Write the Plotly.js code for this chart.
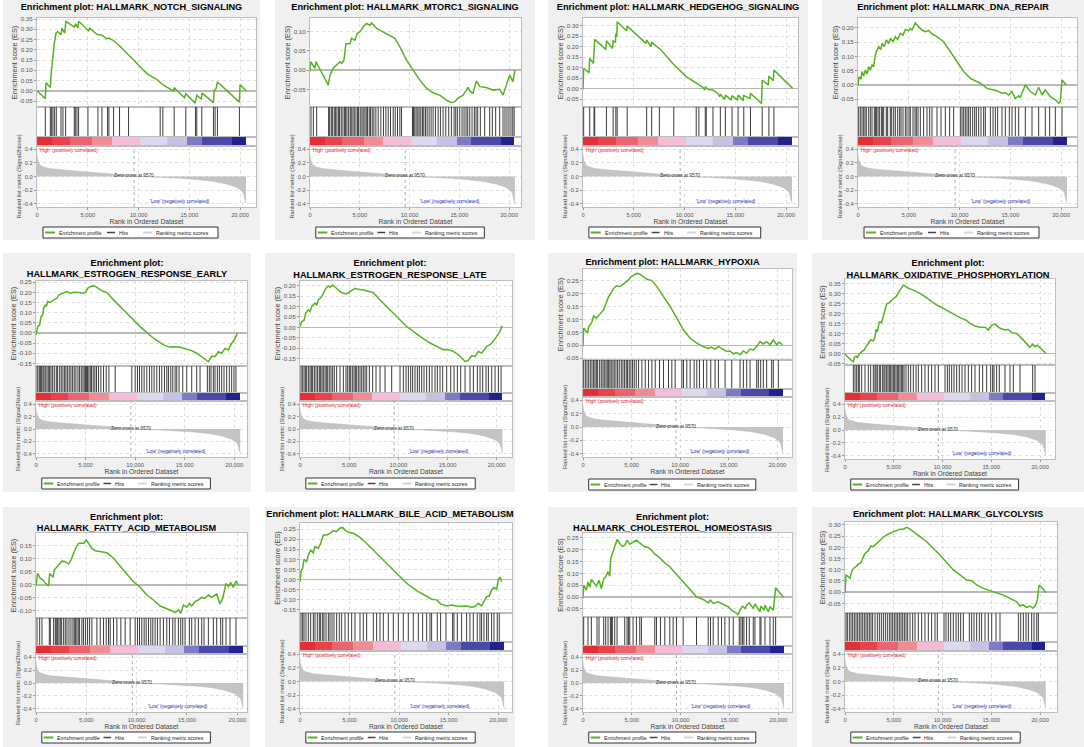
<!DOCTYPE html>
<html><head><meta charset="utf-8">
<script src="https://cdn.plot.ly/plotly-3.0.1.min.js"></script>
<style>
html,body{margin:0;padding:0;background:#ffffff;}
body{width:1084px;height:747px;position:relative;overflow:hidden;}
.panel{position:absolute;}
</style></head>
<body>
<div id="p1" class="panel"></div><div id="p2" class="panel"></div><div id="p3" class="panel"></div><div id="p4" class="panel"></div>
<div id="p5" class="panel"></div><div id="p6" class="panel"></div><div id="p7" class="panel"></div><div id="p8" class="panel"></div>
<div id="p9" class="panel"></div><div id="p10" class="panel"></div><div id="p11" class="panel"></div><div id="p12" class="panel"></div>
<script>
// ---------------- DATA ----------------
const rankTickVals = [0, 5000, 10000, 15000, 20000];
const rankTickText = ['0', '5,000', '10,000', '15,000', '20,000'];
const metricTickVals = [-0.4, -0.2, 0, 0.2, 0.4];
const metricTickText = ['-0.4', '-0.2', '0.0', '0.2', '0.4'];
const zeroCross = 9570;

// ranked list metric (Signal2Noise), shared by all panels
const metricRank  = [0, 20, 130, 300, 620, 1280, 2600, 4240, 5880, 7520, 9160, 9570, 11000, 12450, 14090, 15730, 17370, 18690, 19670, 20080, 20330, 20490, 20590];
const metricValue = [0.34, 0.28, 0.22, 0.167, 0.142, 0.116, 0.096, 0.076, 0.056, 0.035, 0.015, 0.0, -0.008, -0.015, -0.025, -0.046, -0.071, -0.11, -0.16, -0.2, -0.24, -0.34, -0.39];

// colour strip under the hits (rank bins and level per bin)
const barEdges  = [0, 1500, 3250, 5390, 7360, 10150, 12770, 14750, 16220, 19180, 20550];
const barLevels = [0, 1, 2, 3, 4, 5, 6, 7, 8, 9];

const titles = [
  'Enrichment plot: HALLMARK_NOTCH_SIGNALING',
  'Enrichment plot: HALLMARK_MTORC1_SIGNALING',
  'Enrichment plot: HALLMARK_HEDGEHOG_SIGNALING',
  'Enrichment plot: HALLMARK_DNA_REPAIR',
  'Enrichment plot:<br>HALLMARK_ESTROGEN_RESPONSE_EARLY',
  'Enrichment plot:<br>HALLMARK_ESTROGEN_RESPONSE_LATE',
  'Enrichment plot: HALLMARK_HYPOXIA',
  'Enrichment plot:<br>HALLMARK_OXIDATIVE_PHOSPHORYLATION',
  'Enrichment plot:<br>HALLMARK_FATTY_ACID_METABOLISM',
  'Enrichment plot: HALLMARK_BILE_ACID_METABOLISM',
  'Enrichment plot:<br>HALLMARK_CHOLESTEROL_HOMEOSTASIS',
  'Enrichment plot: HALLMARK_GLYCOLYSIS'
];

// 1 NOTCH
const notchEsRank  = [0,820,886,1312,1378,1476,1574,1706,1870,2034,2362,2460,2722,2854,3674,3805,4002,4100,5084,5182,5904,6396,6888,7052,7544,8200,9512,10824,11808,12464,13448,13514,14530,14662,15580,15744,16170,16268,17384,17450,17646,17778,19942,20008,20598];
const notchEsScore = [0,-0.039,0.039,0.016,0.076,0.125,0.183,0.232,0.281,0.289,0.273,0.306,0.281,0.339,0.311,0.327,0.306,0.339,0.293,0.306,0.276,0.271,0.253,0.257,0.245,0.216,0.15,0.084,0.055,0.027,-0.001,0.016,-0.034,-0.014,-0.06,-0.022,-0.039,-0.011,-0.058,0.002,0.011,0.043,-0.055,0.03,0.0];
const notchHits = [820,1312,1443,1574,1738,1902,2362,2558,2821,3674,3772,3936,4100,5018,6002,6396,6954,7085,7544,8134,9020,12136,12398,13514,14662,15613,15744,16236,17384,17548,17778,19942];

// 2 MTORC1
const mtorcEsRank  = [0,67,502,602,1839,2006,2341,2675,3010,3177,3411,3612,4013,4180,4515,4749,5016,5351,5686,6019,6186,6688,7357,8026,8527,9029,9698,10366,11035,11704,12373,13042,13711,14213,14547,14882,15383,15718,15885,16052,16387,16721,17056,17725,18394,19063,19398,19733,20067,20401,20600];
const mtorcEsScore = [-0.004,0.022,0.005,0.022,-0.039,-0.013,0.005,0.013,0.022,0.018,0.026,0.069,0.069,0.083,0.078,0.096,0.1,0.113,0.122,0.117,0.123,0.109,0.1,0.091,0.083,0.061,0.026,0.0,-0.026,-0.047,-0.059,-0.065,-0.078,-0.085,-0.082,-0.073,-0.065,-0.052,-0.045,-0.054,-0.06,-0.028,-0.043,-0.045,-0.052,-0.05,-0.065,-0.039,-0.013,-0.03,0.0];
const mtorcHits = [100,334,669,1873,1973,2140,2274,2441,2575,2709,2876,2976,3143,3311,3478,3578,3712,3879,4046,4147,4314,4448,4615,4782,4882,5049,5217,5350,5518,5651,5785,5952,6086,6253,6420,6621,6855,7123,7390,7624,7858,8092,8360,8561,8795,9029,9196,10300,10400,10534,10667,10835,10968,11136,11303,11436,11604,11771,11972,12172,12373,12607,12874,13108,13376,13644,13944,14212,14480,14647,14814,15048,15282,15483,15683,15851,16051,16285,16519,16687,16854,17121,17556,18058,18325,18660,19061,19395,19596,19796,19997,20198,20380,20520];

// 3 HEDGEHOG
const hedgehogEsRank  = [0,66,594,660,1023,1090,1155,2244,2310,2904,2970,3200,3234,3333,3366,4290,4356,6204,6270,6699,6765,7689,8844,10164,11154,11814,11979,12045,12309,12804,13299,13464,13530,13959,14025,14619,14685,15213,15279,15774,15840,16434,16500,17589,17655,18249,18315,18744,18810,20658];
const hedgehogEsScore = [-0.004,0.096,0.076,0.144,0.12,0.187,0.235,0.187,0.228,0.192,0.228,0.222,0.263,0.247,0.319,0.276,0.298,0.216,0.232,0.2,0.22,0.184,0.12,0.057,0.025,0.006,-0.007,0.009,-0.004,-0.007,-0.023,-0.039,-0.027,-0.052,-0.031,-0.055,-0.034,-0.055,-0.031,-0.058,-0.034,-0.047,-0.023,-0.071,0.04,0.017,0.06,0.037,0.088,0.001];
const hedgehogHits = [66,660,1090,1155,2310,2970,3234,3366,4356,6270,6765,7524,8943,11154,11418,12045,12144,12804,13530,14025,14685,15279,15840,16500,17655,18315,18810];

// 4 DNA_REPAIR
const dnaEsRank  = [0,99,296,394,558,723,887,1051,1215,1379,1543,1708,1872,2036,2266,2364,2594,2791,3021,3185,3448,3678,3908,4170,4433,4663,4992,5156,5320,5648,5977,6305,6634,6962,7290,7783,8440,9097,9753,10410,11067,11461,12052,12709,13202,13694,14187,14515,14844,15172,15500,15829,15993,16486,16979,17471,17800,18128,18457,18950,19442,19771,19935,20099,20525];
const dnaEsScore = [-0.003,0.029,0.02,0.047,0.031,0.052,0.038,0.064,0.052,0.07,0.064,0.105,0.122,0.134,0.124,0.145,0.134,0.157,0.145,0.163,0.151,0.169,0.159,0.18,0.174,0.194,0.19,0.198,0.192,0.217,0.203,0.192,0.186,0.19,0.178,0.169,0.151,0.116,0.081,0.047,0.023,0.015,0.006,-0.012,-0.017,-0.02,-0.029,-0.027,-0.035,-0.023,-0.047,-0.038,-0.043,0.0,-0.023,-0.035,-0.008,-0.035,-0.017,-0.041,-0.052,-0.064,-0.058,0.017,0.0];
const dnaHits = [66,230,394,558,690,821,1051,1215,1379,1609,1741,1806,1970,2102,2299,2397,2529,2791,2923,3185,3317,3514,3678,3908,4105,4236,4433,4663,4827,5025,5156,5419,5616,5747,5911,6141,6470,6798,7060,7290,7783,8177,8604,9031,9425,10082,10246,10410,10575,10739,10903,11067,11297,11494,11658,11888,12118,12381,12545,13038,13300,13530,13760,14187,14515,14909,15172,15500,15829,16486,17143,17800,18457,18884,19442,20099];

// 5 ESTROGEN_RESPONSE_EARLY
const earlyEsRank  = [0,168,369,503,671,772,940,1040,1175,1443,1779,2114,2282,2785,3121,3457,3792,4296,4799,5068,5202,5470,5806,6141,6477,7148,7820,9162,10505,11847,12854,13525,13861,14532,15203,15706,16210,16713,17384,17720,18055,18391,18727,19062,19398,19734,20000,20304];
const earlyEsScore = [-0.01,0.031,0.04,0.08,0.088,0.122,0.138,0.13,0.155,0.15,0.163,0.171,0.187,0.199,0.204,0.196,0.201,0.199,0.196,0.204,0.22,0.228,0.233,0.225,0.212,0.199,0.163,0.097,0.031,-0.026,-0.059,-0.071,-0.068,-0.071,-0.081,-0.087,-0.1,-0.117,-0.142,-0.114,-0.117,-0.093,-0.1,-0.076,-0.084,-0.051,-0.035,-0.002];
const earlyHits = [101,201,369,470,571,705,805,940,1107,1242,1376,1510,1678,1846,2047,2181,2383,2551,2718,2886,3020,3188,3356,3524,3692,3859,4027,4229,4396,4564,4732,4866,5000,5101,5202,5336,5470,5605,5772,5940,6108,6309,6544,6813,7081,7350,7987,9665,10001,10236,10437,10672,10907,11175,11444,11679,11914,12182,12451,12686,12954,13189,13357,13592,13793,14028,14196,14431,14800,15203,15706,16209,16545,17283,17485,17653,17887,18055,18290,18492,18727,18961,19230,19498,19733,19968,20169];

// 6 ESTROGEN_RESPONSE_LATE
const lateEsRank  = [0,170,407,576,848,1017,1187,1526,1695,1865,2204,2373,2644,2882,3051,3322,3560,3899,4238,4746,5085,5594,5933,6441,7119,7458,8136,8814,9831,10848,12204,13221,13899,14577,15085,15594,16102,16441,16780,17119,17458,17797,18136,18475,18984,19323,19662,20000,20339,20543];
const lateEsScore = [0.004,0.028,0.033,0.068,0.084,0.076,0.1,0.116,0.108,0.132,0.147,0.163,0.187,0.198,0.192,0.203,0.192,0.179,0.166,0.16,0.171,0.187,0.182,0.179,0.171,0.166,0.131,0.1,0.052,0.004,-0.043,-0.075,-0.091,-0.107,-0.107,-0.115,-0.131,-0.147,-0.163,-0.158,-0.136,-0.139,-0.115,-0.123,-0.091,-0.083,-0.067,-0.043,-0.019,0.008];
const lateHits = [102,237,407,542,678,848,1017,1153,1288,1458,1627,1797,1966,2102,2237,2373,2543,2678,2814,2983,3153,3322,3492,3729,4068,4407,4678,4848,5017,5153,5322,5492,5627,5763,5933,6102,6272,6441,6611,6780,7051,7390,7729,8136,8645,9323,10170,10509,10780,11018,11255,11458,11696,11933,12136,12374,12611,12882,13153,13424,13730,13967,14238,14509,14916,15323,15662,16001,16340,16781,17289,17628,18035,18306,18577,18916,19154,19493,19832,20171,20442];

// 7 HYPOXIA
const hypoxiaEsRank  = [0,68,343,480,582,753,925,1096,1370,1610,1952,2124,2398,2637,2877,3151,3425,3768,4007,4350,4692,4932,5206,5549,5823,6165,6576,7090,7604,8289,8974,9659,10344,11029,11713,12398,12912,13152,13597,13939,14453,14795,15138,15480,15823,16165,16508,16850,17193,17535,17878,18220,18563,18905,19248,19590,19933,20207,20549];
const hypoxiaEsScore = [-0.005,0.066,0.053,0.047,0.072,0.079,0.091,0.114,0.105,0.117,0.13,0.137,0.162,0.188,0.201,0.22,0.229,0.227,0.233,0.242,0.253,0.265,0.272,0.278,0.276,0.268,0.255,0.25,0.227,0.188,0.15,0.105,0.059,0.027,0.008,-0.005,-0.013,-0.007,-0.015,-0.005,-0.018,-0.024,-0.022,-0.033,-0.028,-0.037,-0.022,-0.031,-0.015,-0.018,-0.005,0.014,0.005,0.014,0.002,0.021,0.002,0.012,0.002];
const hypoxiaHits = [68,240,411,582,754,925,1096,1233,1370,1507,1713,1884,2055,2192,2363,2500,2637,2774,2911,3083,3220,3391,3562,3733,3939,4110,4281,4453,4590,4761,4932,5103,5275,5480,5720,6062,6405,6747,7090,7432,7878,8289,8802,9145,9487,10172,10344,10686,11029,11440,11714,11988,12399,12741,13152,13597,13940,14625,15310,16166,16509,16851,17194,17879,18050,18290,18564,18906,19420,19591,20105];

// 8 OXIDATIVE_PHOSPHORYLATION
const oxphosEsRank  = [0,171,684,855,957,1128,1265,1470,1710,1949,2154,2393,2633,2906,3077,3180,3316,3522,3761,3864,4103,4274,4547,4787,5026,5231,5470,5641,5812,5983,6154,6496,6838,7180,7693,8206,8718,9402,10086,10770,11454,11967,12411,12821,13334,13847,14360,14702,15044,15386,15899,16412,16754,17096,17608,18121,18634,18976,19250,19489,19728,20617];
const oxphosEsScore = [0,-0.013,-0.036,-0.041,-0.02,-0.013,-0.021,-0.003,0.009,0.017,0.034,0.054,0.068,0.064,0.081,0.121,0.11,0.16,0.155,0.177,0.222,0.249,0.256,0.269,0.278,0.286,0.303,0.32,0.333,0.345,0.34,0.328,0.323,0.316,0.303,0.286,0.266,0.244,0.227,0.206,0.189,0.177,0.168,0.152,0.138,0.132,0.132,0.118,0.143,0.148,0.127,0.118,0.121,0.105,0.101,0.076,0.051,0.031,0.047,0.034,0.042,0.0];
const oxphosHits = [855,1026,1197,1368,1470,1710,2051,2393,2633,2906,3077,3180,3316,3522,3658,3863,4000,4103,4274,4411,4547,4684,4821,4958,5094,5231,5368,5505,5641,5778,5915,6052,6257,6496,6735,7009,7282,7521,7863,8205,8547,8889,9231,9573,10257,10496,10701,10940,11180,11453,11727,12000,12308,12650,12992,13334,13778,14120,14531,14941,15146,15283,15556,15830,16411,16924,17266,17950,19249,19489];

// 9 FATTY_ACID_METABOLISM
const fattyEsRank  = [0,165,430,694,926,1256,1355,1686,1818,2083,2347,2579,2909,3240,3471,3736,4000,4232,4562,4728,4992,5223,5554,5884,6380,7041,7703,8364,9025,9686,10348,11009,11670,12331,12992,13488,13818,14149,14380,14645,14976,15240,15472,15803,16133,16464,16794,17125,17456,17952,18282,18547,18877,19109,19340,19604,19869,20100];
const fattyEsScore = [-0.004,0.044,0.025,0.019,0.006,-0.004,0.044,0.029,0.057,0.07,0.082,0.091,0.089,0.08,0.095,0.121,0.146,0.159,0.161,0.159,0.172,0.159,0.14,0.131,0.127,0.123,0.102,0.07,0.042,0.012,-0.009,-0.039,-0.058,-0.081,-0.09,-0.099,-0.106,-0.096,-0.109,-0.077,-0.086,-0.071,-0.081,-0.064,-0.058,-0.048,-0.052,-0.039,-0.048,-0.035,-0.073,-0.052,0.006,-0.007,0.008,-0.01,0.015,-0.001];
const fattyHits = [99,364,595,1322,1422,1752,1917,2017,2149,2281,2413,2546,2744,2909,3075,3273,3471,3670,3802,3934,4066,4199,4331,4562,4728,4926,5124,5323,5554,6050,6381,6711,6976,7207,7372,7703,8034,8430,8860,9356,9852,10083,10282,10513,10745,10943,11174,11406,11604,11835,12067,12331,12662,12993,13257,13588,13819,14150,14381,14579,14811,15240,15472,15803,16133,16464,16695,17125,17621,17952,18348,18546,18877,19274,19869];

// 10 BILE_ACID_METABOLISM
const bileEsRank  = [0,101,269,403,672,840,1075,1344,1512,1849,2084,2353,2689,3025,3361,3697,3966,4302,4537,4873,5378,6050,6722,7730,8739,9747,10755,11764,12604,13276,13780,14184,14789,15293,15797,16301,16805,17309,17645,17981,18317,18553,18822,19090,19326,19561,19830,19998,20166,20335];
const bileEsScore = [-0.01,0.04,0.056,0.1,0.089,0.122,0.146,0.133,0.163,0.155,0.179,0.221,0.221,0.229,0.242,0.237,0.253,0.258,0.245,0.234,0.229,0.209,0.179,0.13,0.081,0.031,-0.018,-0.054,-0.076,-0.097,-0.1,-0.12,-0.13,-0.125,-0.13,-0.133,-0.13,-0.137,-0.133,-0.117,-0.13,-0.109,-0.084,-0.081,-0.051,-0.038,-0.048,-0.002,0.012,-0.01];
const bileHits = [101,269,403,605,840,1076,1344,1512,1748,1949,2084,2285,2420,2622,2857,3025,3227,3428,3697,3966,4201,4537,4873,5210,5546,6050,6386,6722,7394,7730,8066,8403,8907,9411,9915,10419,10923,11427,11932,12368,12772,13108,13276,13847,14183,14721,15393,15528,15864,16301,16805,17141,17477,17881,18150,18318,18553,18822,18990,19326,19561,19897,20099];

// 11 CHOLESTEROL_HOMEOSTASIS
const cholEsRank  = [0,68,342,513,684,855,1368,1641,1880,2120,2325,2564,2735,2838,3077,3248,3487,3761,4034,4274,4513,4787,5128,5470,5812,5983,6325,6667,7009,7351,7693,8035,8376,8889,9573,10257,10941,11624,12308,12821,13060,13334,13847,14360,14872,15214,15556,15898,16069,16343,16582,16753,17026,17266,17437,17608,18121,18223,18531,18634,18976,19147,19489,19728,20515];
const cholEsScore = [-0.006,0.05,0.029,0.064,0.041,0.074,0.046,0.071,0.036,0.078,0.085,0.107,0.088,0.163,0.191,0.212,0.243,0.226,0.214,0.219,0.24,0.223,0.233,0.24,0.228,0.223,0.212,0.209,0.198,0.181,0.172,0.158,0.144,0.128,0.097,0.064,0.032,0.001,-0.01,-0.024,-0.013,-0.027,-0.02,-0.029,-0.041,-0.055,-0.066,-0.073,-0.055,-0.038,-0.048,-0.034,-0.024,-0.038,-0.048,-0.029,-0.062,-0.038,-0.055,-0.034,-0.062,-0.041,-0.055,0.039,-0.001];
const cholHits = [68,513,855,1436,1641,2120,2325,2564,2804,2906,3009,3248,3487,4274,4513,4650,4787,5128,5470,5812,5983,7351,7522,7932,8377,8889,9231,9573,10257,11625,12821,13060,13334,13847,14189,14531,14975,15386,16001,16172,16343,16480,16753,17027,17437,17608,18121,18224,18634,19147,19489,19728];

// 12 GLYCOLYSIS
const glycoEsRank  = [0,103,513,684,855,1128,1368,1607,1812,2051,2393,2633,2906,3248,3590,3932,4274,4616,4958,5300,5641,5983,6325,6667,7180,7693,8376,9060,9744,10428,11112,11795,12479,12992,13505,14189,14872,15556,16240,16924,17608,17950,18292,18634,18976,19249,19489,19728,19899,20172,20617];
const glycoEsScore = [-0.005,0.077,0.062,0.091,0.106,0.114,0.126,0.129,0.151,0.173,0.185,0.206,0.203,0.218,0.233,0.245,0.255,0.263,0.27,0.274,0.281,0.281,0.289,0.281,0.266,0.248,0.225,0.196,0.166,0.132,0.099,0.077,0.054,0.051,0.032,0.017,0.006,-0.002,-0.013,-0.028,-0.043,-0.062,-0.057,-0.068,-0.062,-0.072,-0.062,-0.035,0.032,0.021,-0.002];
const glycoHits = [103,239,444,615,786,957,1128,1299,1470,1641,1812,1983,2154,2325,2496,2667,2838,3077,3316,3522,3727,3932,4137,4342,4547,4718,4889,5060,5231,5402,5573,5744,5915,6086,6257,6428,6667,6941,7180,7522,7864,8206,8547,8889,9231,9471,10154,10360,10599,10838,11112,11385,11624,11864,12137,12753,12992,13232,13505,13779,14009,14360,14702,15044,15488,15898,17779,18018,18292,18565,18805,19147,19386,19660,19831];

// ---------------- STYLE / LAYOUT ----------------
const FONT = '"Liberation Sans", Arial, Helvetica, sans-serif';
const GREEN = '#52b520';
const FRAME = '#bdbdbd';
const GRID = '#dddddd';
const barColors = ['#e52d35','#e8424b','#ea6470','#f08c94','#f5bcd8','#dcd8f0','#c6c2e6','#7d7bc8','#4a48a8','#22228e'];

// absolute pixel geometry of each panel (div box, axis x positions, vertical bands)
const GEO = [
  {l:3,  t:0,   w:257, h:240, x0:37,  x20:240,   xR:256,  ty:[7],        es:[18,107],  hb:137, cb:146, rb:207, lg:227, er:[-0.079,0.355]},
  {l:275,t:0,   w:260, h:240, x0:310, x20:509,   xR:521,  ty:[7],        es:[18,107],  hb:137, cb:146, rb:207, lg:227, er:[-0.096,0.136]},
  {l:548,t:0,   w:260, h:240, x0:583, x20:786,   xR:798,  ty:[7],        es:[18,107],  hb:137, cb:146, rb:207, lg:227, er:[-0.088,0.337]},
  {l:822,t:0,   w:262, h:240, x0:858, x20:1061,  xR:1077, ty:[7],        es:[18,107],  hb:137, cb:146, rb:207, lg:227, er:[-0.077,0.234]},
  {l:3,  t:253, w:248, h:239, x0:36,  x20:234.3, xR:247,  ty:[259.5,271.5], es:[281,366], hb:393, cb:401, rb:457, lg:478, er:[-0.163,0.256]},
  {l:265,t:253, w:250, h:239, x0:300, x20:496.7, xR:512,  ty:[260,272],  es:[281,366], hb:393, cb:401, rb:457, lg:478, er:[-0.185,0.222]},
  {l:548,t:253, w:249, h:239, x0:583, x20:777.3, xR:792,  ty:[262],      es:[269,360], hb:389, cb:397, rb:457, lg:479, er:[-0.057,0.295]},
  {l:812,t:253, w:272, h:239, x0:845, x20:1040,  xR:1055, ty:[260,272],  es:[279,365], hb:393, cb:401, rb:459, lg:479, er:[-0.058,0.375]},
  {l:3,  t:507, w:247, h:240, x0:36,  x20:237.3, xR:247,  ty:[513,526],  es:[533,618], hb:646, cb:654, rb:712, lg:732, er:[-0.127,0.199]},
  {l:265,t:507, w:250, h:240, x0:300, x20:498.3, xR:512,  ty:[514],      es:[523,613], hb:642, cb:651, rb:712, lg:732, er:[-0.165,0.280]},
  {l:548,t:507, w:249, h:240, x0:583, x20:778.3, xR:792,  ty:[513,526],  es:[533,617], hb:646, cb:654, rb:712, lg:732, er:[-0.084,0.270]},
  {l:812,t:507, w:272, h:240, x0:845, x20:1040,  xR:1057, ty:[514],      es:[522,613], hb:642, cb:651, rb:712, lg:732, er:[-0.093,0.313]}
];

const SETS = [
  [notchEsRank, notchEsScore, notchHits],
  [mtorcEsRank, mtorcEsScore, mtorcHits],
  [hedgehogEsRank, hedgehogEsScore, hedgehogHits],
  [dnaEsRank, dnaEsScore, dnaHits],
  [earlyEsRank, earlyEsScore, earlyHits],
  [lateEsRank, lateEsScore, lateHits],
  [hypoxiaEsRank, hypoxiaEsScore, hypoxiaHits],
  [oxphosEsRank, oxphosEsScore, oxphosHits],
  [fattyEsRank, fattyEsScore, fattyHits],
  [bileEsRank, bileEsScore, bileHits],
  [cholEsRank, cholEsScore, cholHits],
  [glycoEsRank, glycoEsScore, glycoHits]
];

function esTicks(r) {
  const vals = [];
  for (let k = Math.ceil(r[0] / 0.05 - 1e-9); k * 0.05 <= r[1] + 1e-9; k++) vals.push(+(k * 0.05).toFixed(2));
  return {vals: vals, text: vals.map(v => (v < 0 ? '-' : '') + Math.abs(v).toFixed(2))};
}

function buildPanel(i) {
  const g = GEO[i];
  const [esRank, esScore, hits] = SETS[i];
  const div = document.getElementById('p' + (i + 1));
  div.style.left = g.l + 'px'; div.style.top = g.t + 'px';
  div.style.width = g.w + 'px'; div.style.height = g.h + 'px';

  const xmax = 20000 * (g.xR - g.x0) / (g.x20 - g.x0);
  const fy = py => 1 - (py - g.t) / g.h;                 // pixel row -> paper y
  const fx = px => (px - g.x0) / (g.xR - g.x0);          // pixel col -> paper x
  const dom = (a, b) => [fy(b), fy(a)];
  const s = (g.xR - g.x0) / 219;

  const cs = [];
  barColors.forEach((c, k) => { cs.push([k / barColors.length, c]); cs.push([(k + 1) / barColors.length, c]); });

  const traces = [
    {type: 'scatter', mode: 'lines', name: 'Enrichment profile', x: esRank, y: esScore, xaxis: 'x', yaxis: 'y',
     line: {color: GREEN, width: 1.5}, hoverinfo: 'skip'},
    {type: 'scatter', mode: 'lines', name: 'Hits', x: hits.flatMap(h => [h, h, null]), y: hits.flatMap(() => [0, 1, null]),
     xaxis: 'x2', yaxis: 'y2', line: {color: '#262626', width: 0.9}, hoverinfo: 'skip'},
    {type: 'heatmap', x: barEdges, y: [0, 1], z: [barLevels], xaxis: 'x3', yaxis: 'y3', colorscale: cs,
     zmin: -0.5, zmax: barColors.length - 0.5, showscale: false, hoverinfo: 'skip'},
    {type: 'scatter', mode: 'lines', name: 'Ranking metric scores', x: metricRank, y: metricValue, xaxis: 'x4', yaxis: 'y4',
     fill: 'tozeroy', fillcolor: '#c4c4c4', line: {color: '#b4b4b4', width: 0.5}, hoverinfo: 'skip'}
  ];

  const baseX = {range: [0, xmax], showline: true, mirror: true, linecolor: FRAME, linewidth: 1, zeroline: false,
                 ticks: '', showticklabels: false, showgrid: false, fixedrange: true, automargin: false};
  const et = esTicks(g.er);

  const lgMid = fy(g.lg + 5.5);
  const bx = px => fx(g.x0 + px * s);

  const layout = {
    width: g.w, height: g.h,
    margin: {l: g.x0 - g.l, r: g.l + g.w - g.xR, t: 0, b: 0, pad: 0, autoexpand: false},
    paper_bgcolor: '#f0f0f0', plot_bgcolor: '#ffffff', showlegend: false,
    font: {family: FONT, color: '#444', size: 7},
    title: {text: titles[i], font: {family: FONT, size: 9.2, color: '#000', weight: 'bold'},
            xref: 'container', x: 0.5, xanchor: 'center', yref: 'container',
            y: 1 - ((g.ty[0] + g.ty[g.ty.length - 1]) / 2 - g.t) / g.h, yanchor: 'middle', pad: {t: 0, b: 0, l: 0, r: 0}},
    xaxis: Object.assign({}, baseX, {anchor: 'y', showgrid: true, gridcolor: GRID, griddash: 'dot', tickvals: rankTickVals}),
    yaxis: {domain: dom(g.es[0], g.es[1]), range: g.er, anchor: 'x', showline: true, mirror: true, linecolor: FRAME,
            tickvals: et.vals, ticktext: et.text, ticks: 'outside', ticklen: 2, tickcolor: '#999',
            tickfont: {size: 6.2, color: '#555'}, showgrid: true, gridcolor: GRID, griddash: 'dot',
            zeroline: true, zerolinecolor: '#b8b8b8', zerolinewidth: 1.5, fixedrange: true, automargin: false,
            title: {text: 'Enrichment score (ES)', font: {size: 7.3, color: '#444'}, standoff: 0}},
    xaxis2: Object.assign({}, baseX, {anchor: 'y2'}),
    yaxis2: {domain: dom(g.es[1], g.hb), range: [0, 1], anchor: 'x2', showline: true, mirror: true, linecolor: FRAME,
             showticklabels: false, ticks: '', showgrid: false, zeroline: false, fixedrange: true},
    xaxis3: Object.assign({}, baseX, {anchor: 'y3'}),
    yaxis3: {domain: dom(g.hb, g.cb), range: [0, 1], anchor: 'x3', showline: true, mirror: true, linecolor: FRAME,
             showticklabels: false, ticks: '', showgrid: false, zeroline: false, fixedrange: true},
    xaxis4: Object.assign({}, baseX, {anchor: 'y4', showgrid: true, gridcolor: GRID, griddash: 'dot',
             tickvals: rankTickVals, ticktext: rankTickText, showticklabels: true, ticks: 'outside', ticklen: 2,
             tickcolor: '#999', tickfont: {size: 5.8, color: '#555'},
             title: {text: 'Rank in Ordered Dataset', font: {size: 6.7, color: '#444'}, standoff: 2}}),
    yaxis4: {domain: dom(g.cb, g.rb), range: [-0.45, 0.45], anchor: 'x4', showline: true, mirror: true, linecolor: FRAME,
             tickvals: metricTickVals, ticktext: metricTickText, ticks: 'outside', ticklen: 2, tickcolor: '#999',
             tickfont: {size: 5.8, color: '#555'}, showgrid: true, gridcolor: GRID, griddash: 'dot', zeroline: false,
             fixedrange: true, automargin: false,
             title: {text: 'Ranked list metric (Signal2Noise)', font: {size: 5.7, color: '#444'}, standoff: 0}},
    shapes: [
      {type: 'line', xref: 'x4', yref: 'y4 domain', x0: zeroCross, x1: zeroCross, y0: 0, y1: 1,
       line: {color: '#9a9a9a', width: 0.8, dash: 'dot'}},
      // legend box
      {type: 'rect', xref: 'paper', yref: 'paper', x0: bx(6), x1: bx(181), y0: fy(g.lg + 11), y1: fy(g.lg),
       line: {color: '#333', width: 1}, fillcolor: '#ffffff'},
      {type: 'line', xref: 'paper', yref: 'paper', x0: bx(8), x1: bx(18), y0: lgMid, y1: lgMid, line: {color: GREEN, width: 2}},
      {type: 'line', xref: 'paper', yref: 'paper', x0: bx(70), x1: bx(78), y0: lgMid, y1: lgMid, line: {color: '#444', width: 1.5}},
      {type: 'line', xref: 'paper', yref: 'paper', x0: bx(106), x1: bx(115), y0: lgMid, y1: lgMid, line: {color: '#d4d4d4', width: 2}}
    ],
    annotations: [
      {xref: 'x4', yref: 'y4', x: zeroCross, y: 0.015, text: 'Zero cross at 9570', showarrow: false,
       xanchor: 'center', yanchor: 'middle', font: {size: 4.8, color: '#333'}},
      {xref: 'x4', yref: 'y4', x: 40, y: 0.45, text: "'High' (positively correlated)", showarrow: false,
       xanchor: 'left', yanchor: 'top', font: {size: 4.8, color: '#e0202a'}},
      {xref: 'x4', yref: 'y4', x: 14100, y: -0.365, text: "'Low' (negatively correlated)", showarrow: false,
       xanchor: 'center', yanchor: 'middle', font: {size: 4.8, color: '#2a2ab4'}},
      {xref: 'paper', yref: 'paper', x: bx(20), y: lgMid, text: 'Enrichment profile', showarrow: false,
       xanchor: 'left', yanchor: 'middle', font: {size: 5.3, color: '#222'}},
      {xref: 'paper', yref: 'paper', x: bx(80), y: lgMid, text: 'Hits', showarrow: false,
       xanchor: 'left', yanchor: 'middle', font: {size: 5.3, color: '#222'}},
      {xref: 'paper', yref: 'paper', x: bx(117), y: lgMid, text: 'Ranking metric scores', showarrow: false,
       xanchor: 'left', yanchor: 'middle', font: {size: 5.3, color: '#222'}}
    ]
  };
  Plotly.newPlot(div, traces, layout, {staticPlot: true, displayModeBar: false});
}

for (let i = 0; i < GEO.length; i++) buildPanel(i);
</script>
</body></html>
